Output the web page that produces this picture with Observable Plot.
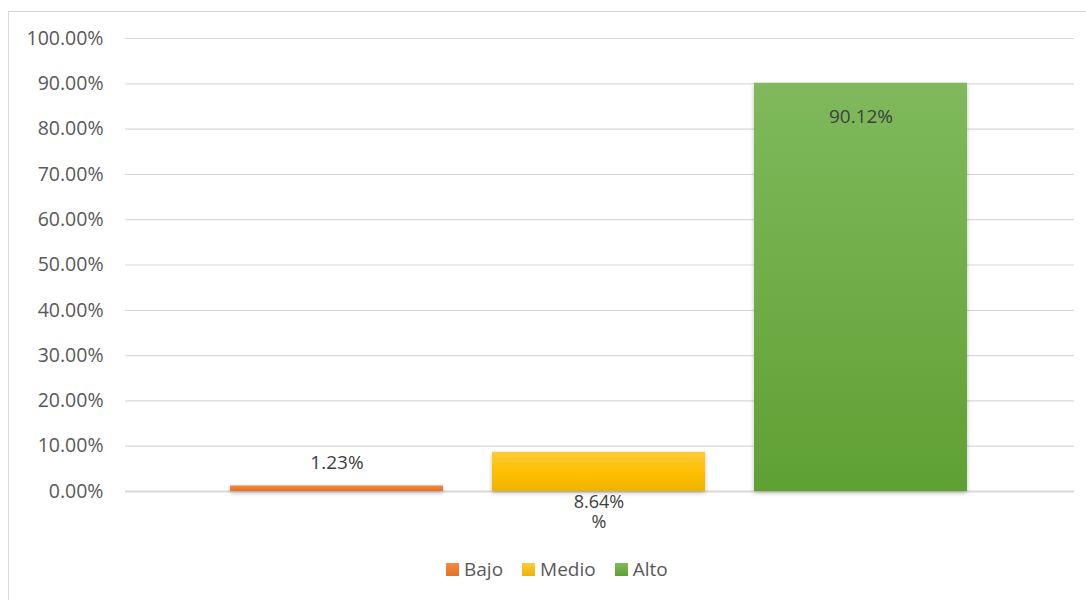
<!DOCTYPE html>
<html>
<head>
<meta charset="utf-8">
<script src="https://cdn.jsdelivr.net/npm/d3@7"></script>
<script src="https://cdn.jsdelivr.net/npm/@observablehq/plot@0.6"></script>
<style>
  html, body { margin: 0; padding: 0; background: #fff; overflow: hidden; width: 1086px; height: 600px; }
  #frame { position: absolute; left: 8px; top: 11px; width: 1100px; height: 620px; border: 1px solid #d9d9d9; box-sizing: border-box; }
  #chart { position: absolute; left: 0; top: 0; }
  #chart svg { font-family: "Open Sans", sans-serif; }
  #chart g[aria-label="bar"] rect { filter: drop-shadow(0px 2px 2px rgba(0,0,0,0.25)); }
  #legend { position: absolute; left: 437px; top: 544px; display: flex; align-items: center; font-family: "Open Sans", sans-serif; font-size: 19px; color: #595959; }
  #legend .item { display: flex; align-items: center; margin-right: 19px; }
  #legend .sw { width: 13px; height: 13px; margin-right: 5px; }
</style>
</head>
<body>
<div id="frame">
  <div id="chart"></div>
  <div id="legend"></div>
</div>
<script>
const categories = ["Bajo", "Medio", "Alto"];
const values = [0.0123, 0.0864, 0.9012];
const labels = ["1.23%", "8.64%\n%", "90.12%"];
const yTicks = [0, 0.1, 0.2, 0.3, 0.4, 0.5, 0.6, 0.7, 0.8, 0.9, 1.0];
const gradIds = ["gBajo", "gMedio", "gAlto"];
const gradStops = [
  ["#f38a43", "#ed7d31", "#e57124"],
  ["#ffca3a", "#ffc000", "#efb300"],
  ["#7fb95c", "#70ad47", "#5fa033"]
];

const data = categories.map((c, i) => ({cat: c, value: values[i], label: labels[i]}));

const chart = Plot.plot({
  width: 1077,
  height: 532,
  marginLeft: 116,
  marginRight: 12,
  marginTop: 26,
  marginBottom: 53,
  style: {fontFamily: "Open Sans, sans-serif", fontSize: "19.5px", color: "#595959", background: "transparent"},
  x: {domain: categories, range: [171.5, 1008.5], padding: 0.1855, axis: null},
  y: {domain: [0, 1], ticks: yTicks, tickFormat: d3.format(".2%"), tickSize: 0, tickPadding: 22, label: null},
  color: {domain: categories, range: gradIds.map(id => `url(#${id})`)},
  marks: [
    Plot.ruleY(yTicks.filter(t => t > 0), {stroke: "#d9d9d9", strokeWidth: 1.2}),
    Plot.ruleY([0], {stroke: "#d9d9d9", strokeWidth: 2}),
    Plot.barY(data, {x: "cat", y: "value", fill: "cat"}),
    Plot.text(data.filter(d => d.cat === "Bajo"), {x: "cat", y: "value", text: "label", dy: -23, fill: "#404040", fontSize: 19}),
    Plot.text(data.filter(d => d.cat === "Medio"), {x: "cat", y: 0, text: "label", dy: 2, lineAnchor: "top", lineHeight: 1.12, fill: "#404040", fontSize: 18}),
    Plot.text(data.filter(d => d.cat === "Alto"), {x: "cat", y: "value", text: "label", dy: 34, fill: "#404040", fontSize: 19})
  ]
});

// gradient definitions for the bar fills
const ns = "http://www.w3.org/2000/svg";
const defs = document.createElementNS(ns, "defs");
gradIds.forEach((id, i) => {
  const lg = document.createElementNS(ns, "linearGradient");
  lg.setAttribute("id", id);
  lg.setAttribute("x1", "0"); lg.setAttribute("y1", "0");
  lg.setAttribute("x2", "0"); lg.setAttribute("y2", "1");
  gradStops[i].forEach((c, k) => {
    const s = document.createElementNS(ns, "stop");
    s.setAttribute("offset", String(k / (gradStops[i].length - 1)));
    s.setAttribute("stop-color", c);
    lg.appendChild(s);
  });
  defs.appendChild(lg);
});
chart.insertBefore(defs, chart.firstChild);
document.getElementById("chart").appendChild(chart);

// legend
const legend = document.getElementById("legend");
categories.forEach((c, i) => {
  const item = document.createElement("div");
  item.className = "item";
  const sw = document.createElement("div");
  sw.className = "sw";
  sw.style.background = `linear-gradient(${gradStops[i][0]}, ${gradStops[i][2]})`;
  const t = document.createElement("span");
  t.textContent = c;
  item.appendChild(sw);
  item.appendChild(t);
  legend.appendChild(item);
});
</script>
</body>
</html>
